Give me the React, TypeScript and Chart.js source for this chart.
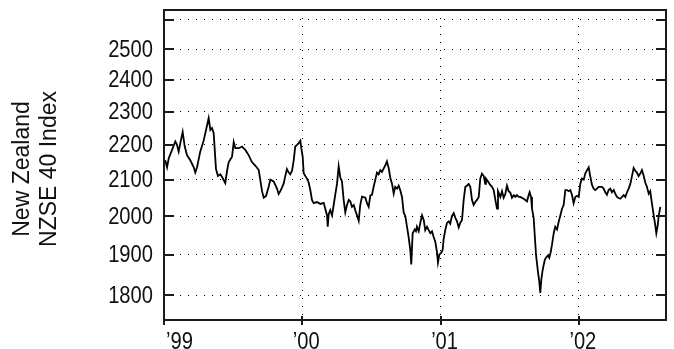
import React, { useEffect, useRef } from 'react';
import { Chart, registerables } from 'chart.js';

Chart.register(...registerables);

// ---- data ----
const START_YEAR = 1999;
// time of each observation, in years after 1 Jan 1999
const yearOffsets = [
  0.009, 0.022, 0.034, 0.058, 0.082, 0.094, 0.106, 0.118, 0.135, 0.150, 0.166, 0.190, 0.215, 0.226, 0.239,
  0.262, 0.287, 0.304, 0.323, 0.335, 0.347, 0.359, 0.376, 0.390, 0.407, 0.419, 0.443, 0.456, 0.468, 0.492,
  0.504, 0.516, 0.540, 0.564, 0.588, 0.612, 0.636, 0.660, 0.685, 0.696, 0.709, 0.721,
  0.738, 0.757, 0.769, 0.793, 0.817, 0.829, 0.841, 0.853, 0.866, 0.877, 0.889, 0.902, 0.913, 0.926, 0.938,
  0.949, 0.962, 0.974, 0.986, 0.993, 1.003, 1.010, 1.022, 1.034, 1.046, 1.058, 1.070, 1.082, 1.106, 1.130,
  1.155, 1.166, 1.179, 1.184, 1.191, 1.202, 1.215, 1.227, 1.239, 1.251, 1.263, 1.275, 1.287, 1.299, 1.311,
  1.323, 1.336, 1.347, 1.359, 1.372, 1.383, 1.396, 1.408, 1.419, 1.432,
  1.456, 1.468, 1.480, 1.492, 1.504, 1.516, 1.528, 1.540, 1.552, 1.564, 1.576, 1.589, 1.600, 1.612, 1.625,
  1.636, 1.649, 1.661, 1.672, 1.685, 1.697, 1.709, 1.721, 1.733, 1.745, 1.757, 1.769, 1.781, 1.788, 1.798,
  1.813, 1.822, 1.829, 1.842, 1.853, 1.866, 1.878, 1.889, 1.902, 1.914, 1.926, 1.938, 1.950, 1.962, 1.974,
  1.981, 1.991, 2.005, 2.015, 2.022, 2.034, 2.046, 2.059, 2.070, 2.082, 2.095, 2.106, 2.119, 2.131, 2.142, 2.155,
  2.167, 2.179, 2.191, 2.203, 2.215, 2.227, 2.239, 2.251, 2.263, 2.276, 2.287, 2.299, 2.312, 2.323, 2.328,
  2.343, 2.359, 2.372, 2.384, 2.396, 2.408, 2.415, 2.432, 2.444, 2.456, 2.468, 2.480, 2.492, 2.504, 2.516,
  2.529, 2.540, 2.552, 2.565, 2.576, 2.601, 2.625, 2.637, 2.644, 2.654, 2.661, 2.673, 2.680, 2.690, 2.704,
  2.714, 2.721, 2.728, 2.738, 2.753, 2.762, 2.777, 2.786, 2.796, 2.806, 2.818, 2.829, 2.842, 2.854, 2.866,
  2.878, 2.890, 2.902,
  2.914, 2.926, 2.938, 2.950, 2.962, 2.974, 2.986, 2.999, 3.010, 3.022, 3.035, 3.046, 3.059, 3.071, 3.082,
  3.095, 3.107, 3.118, 3.131, 3.143, 3.167, 3.179, 3.191, 3.203, 3.215, 3.227, 3.239, 3.252, 3.263, 3.275,
  3.288, 3.299, 3.312, 3.324, 3.336, 3.348, 3.360, 3.372, 3.384, 3.396, 3.408, 3.420, 3.432, 3.444, 3.456,
  3.469, 3.480, 3.492, 3.505, 3.516, 3.528, 3.541, 3.552, 3.560, 3.570, 3.577, 3.589,
];
const nzse40 = [
  2155, 2135, 2160, 2185, 2210, 2200, 2180, 2205, 2238, 2195, 2170, 2155, 2135, 2120, 2135,
  2180, 2213, 2244, 2280, 2244, 2250, 2235, 2130, 2110, 2115, 2108, 2090, 2125, 2150, 2165,
  2208, 2190, 2190, 2195, 2185, 2170, 2150, 2140, 2127, 2100, 2068, 2050,
  2055, 2080, 2100, 2095, 2075, 2060, 2068, 2078, 2090, 2110, 2130, 2120, 2115, 2125, 2155,
  2195, 2200, 2205, 2212, 2190, 2165, 2118, 2110, 2103, 2092, 2071, 2044, 2035, 2038, 2033,
  2036, 2020, 2002, 1972, 2005, 2016, 2002, 2030, 2060, 2088, 2138, 2106, 2095, 2044, 2010,
  2030, 2044, 2040, 2025, 2030, 2016, 2002, 1988, 2030, 2053,
  2050, 2035, 2025, 2056, 2058, 2080, 2100, 2120, 2115, 2127, 2122, 2132, 2140, 2152, 2132,
  2106, 2088, 2061, 2080, 2075, 2083, 2070, 2052, 2010, 2000, 1972, 1945, 1912, 1875, 1955,
  1965, 1960, 1972, 1960, 1982, 2002, 1990, 1963, 1972, 1963, 1955, 1960, 1945, 1932, 1906,
  1880, 1900, 1905, 1912, 1940, 1963, 1982, 1986, 1980, 2000, 2008, 1996, 1986, 1970, 1982, 1990,
  2044, 2080, 2083, 2088, 2080, 2044, 2030, 2038, 2044, 2052, 2103, 2117, 2110, 2088, 2103,
  2095, 2085, 2080, 2071, 2044, 2020, 2068, 2052, 2068, 2050, 2060, 2083, 2068, 2064, 2050,
  2057, 2052, 2057, 2052, 2052, 2047, 2040, 2057, 2065, 2052, 2020, 1996, 1955, 1900, 1857,
  1832, 1805, 1837, 1861, 1886, 1892, 1898, 1892, 1906, 1926, 1955, 1972, 1965, 1985, 2002,
  2020, 2030, 2071,
  2071, 2068, 2071, 2058, 2035, 2052, 2055, 2052, 2088, 2103, 2100, 2117, 2127, 2135, 2110,
  2085, 2075, 2071, 2075, 2080, 2080, 2075, 2065, 2058, 2071, 2075, 2065, 2071, 2061, 2052,
  2049, 2047, 2052, 2057, 2052, 2065, 2075, 2088, 2110, 2133, 2125, 2120, 2110, 2117, 2127,
  2110, 2092, 2080, 2061, 2068, 2035, 2002, 1977, 1955, 1975, 2000, 2025,
];

const yTickValues = [1800, 1900, 2000, 2100, 2200, 2300, 2400, 2500, 2600];
const yTickLabels = ['1800', '1900', '2000', '2100', '2200', '2300', '2400', '2500', ''];
const xTickYears = [1999, 2000, 2001, 2002];
const xTickLabels = ['\u201999', '\u201900', '\u201901', '\u201902'];
const yAxisTitle = ['New Zealand', 'NZSE 40 Index'];
const Y_MIN = 1741;
const Y_MAX = 2634;
const X_MIN = 1999;
const X_MAX = 2002.63;

const SANS = '"Liberation Sans", Arial, sans-serif';
const INK = '#111';

const framePlugin = {
  id: 'frameAndLabels',
  afterDraw(chart: any) {
    const { ctx, chartArea: a, scales } = chart;
    ctx.save();
    // plot frame
    ctx.strokeStyle = '#1a1a1a';
    ctx.lineWidth = 2;
    ctx.strokeRect(a.left, a.top, a.right - a.left, a.bottom - a.top);
    // inner y tick marks, both sides
    ctx.beginPath();
    for (const v of yTickValues) {
      const y = Math.round(scales.y.getPixelForValue(v));
      ctx.moveTo(a.left, y);
      ctx.lineTo(a.left + 10, y);
      ctx.moveTo(a.right - 10, y);
      ctx.lineTo(a.right, y);
    }
    ctx.stroke();
    // x tick marks crossing the bottom axis
    ctx.beginPath();
    for (const yr of xTickYears) {
      const x = Math.round(scales.x.getPixelForValue(yr));
      ctx.moveTo(x, a.bottom - 4);
      ctx.lineTo(x, a.bottom + 5);
    }
    ctx.stroke();

    ctx.fillStyle = INK;
    ctx.font = '24px ' + SANS;
    // y labels (narrow, right aligned)
    ctx.textAlign = 'right';
    ctx.textBaseline = 'middle';
    yTickValues.forEach((v, i) => {
      const y = scales.y.getPixelForValue(v);
      ctx.save();
      ctx.translate(a.left - 11, y + 1);
      ctx.scale(0.84, 1);
      ctx.fillText(yTickLabels[i], 0, 0);
      ctx.restore();
    });
    // x labels
    ctx.textBaseline = 'alphabetic';
    xTickYears.forEach((yr, i) => {
      const x = scales.x.getPixelForValue(yr);
      ctx.save();
      if (i === 0) {
        ctx.textAlign = 'left';
        ctx.translate(a.left + 2, 349);
      } else {
        ctx.textAlign = 'center';
        ctx.translate(x + 4, 349);
      }
      ctx.scale(0.84, 1);
      ctx.fillText(xTickLabels[i], 0, 0);
      ctx.restore();
    });
    // y axis title (two rotated lines)
    ctx.font = '23px ' + SANS;
    ctx.textAlign = 'center';
    ctx.textBaseline = 'middle';
    const cy = 169;
    const centers = [23, 50];
    yAxisTitle.forEach((t, i) => {
      ctx.save();
      ctx.translate(centers[i], cy);
      ctx.rotate(-Math.PI / 2);
      ctx.fillText(t, 0, 0);
      ctx.restore();
    });
    ctx.restore();
  },
};

export default function App() {
  const canvasRef = useRef<HTMLCanvasElement | null>(null);

  useEffect(() => {
    const canvas = canvasRef.current;
    if (!canvas) return;
    const points = yearOffsets.map((o, i) => ({ x: START_YEAR + o, y: nzse40[i] }));
    const chart = new Chart(canvas, {
      type: 'line',
      data: {
        datasets: [
          {
            label: 'NZSE 40',
            data: points,
            borderColor: '#000',
            borderWidth: 1.8,
            pointRadius: 0,
            tension: 0,
            fill: false,
          },
        ],
      },
      options: {
        responsive: false,
        animation: false,
        devicePixelRatio: 1,
        layout: { padding: { top: 10, right: 8, bottom: 0, left: 0 } },
        plugins: { legend: { display: false }, tooltip: { enabled: false }, title: { display: false } },
        scales: {
          x: {
            type: 'linear',
            min: X_MIN,
            max: X_MAX,
            afterBuildTicks: (s: any) => {
              s.ticks = xTickYears.map((v) => ({ value: v }));
            },
            afterFit: (s: any) => {
              s.height = 29;
              s.paddingLeft = 0;
              s.paddingRight = 0;
            },
            ticks: { display: false },
            grid: { color: '#000', lineWidth: 1, drawTicks: false, borderDash: [1, 7] } as any,
            border: { display: false, dash: [1, 7] },
          },
          y: {
            type: 'logarithmic',
            min: Y_MIN,
            max: Y_MAX,
            afterBuildTicks: (s: any) => {
              s.ticks = yTickValues.map((v) => ({ value: v }));
            },
            afterFit: (s: any) => {
              s.width = 164;
              s.paddingTop = 0;
              s.paddingBottom = 0;
            },
            ticks: { display: false, autoSkip: false },
            grid: { color: '#000', lineWidth: 1, drawTicks: false, borderDash: [1, 7] } as any,
            border: { display: false, dash: [1, 7] },
          },
        },
      },
      plugins: [framePlugin],
    });
    return () => chart.destroy();
  }, []);

  return (
    <div style={{ position: 'absolute', left: 0, top: 0, width: 674, height: 349 }}>
      <canvas ref={canvasRef} width={674} height={349} style={{ display: 'block' }} />
    </div>
  );
}
